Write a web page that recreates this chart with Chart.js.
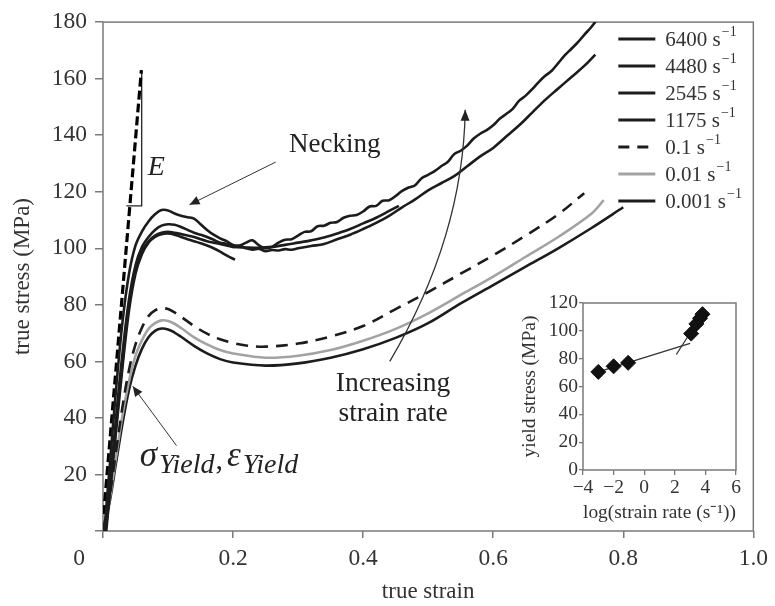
<!DOCTYPE html>
<html>
<head>
<meta charset="utf-8">
<script src="https://cdn.jsdelivr.net/npm/chart.js@4.4.0/dist/chart.umd.min.js"></script>
<style>
  html, body { margin: 0; padding: 0; background: #fff; }
  #wrap { position: relative; width: 775px; height: 606px; }
  #mainChart { position: absolute; left: 0; top: 0; }
  #insetChart { position: absolute; left: 505px; top: 290px; }
</style>
</head>
<body>
<div id="wrap">
  <canvas id="mainChart" width="775" height="606"></canvas>
  <canvas id="insetChart" width="250" height="240"></canvas>
</div>
<script>
/************ data (true strain, true stress MPa) ************/
const rate_labels = ['6400', '4480', '2545', '1175', '0.1', '0.01', '0.001'];

const curve_6400 = [[0.002,0],[0.01,22],[0.02,50],[0.03,74],[0.04,91],[0.05,101],[0.06,106],[0.07,109.5],[0.08,112],[0.09,113.5],
  [0.1,113.4],[0.11,112.3],[0.12,111.5],[0.13,111],[0.14,110.5],[0.15,108.5],[0.16,106.5],[0.17,104.8],[0.18,103.5],[0.19,102.5],[0.2,101.2],
  [0.21,101],[0.22,102],[0.23,102.8],[0.24,101],[0.25,100],[0.26,100.5],[0.27,102],[0.28,103],[0.29,103.2],[0.3,104.5],
  [0.31,105.8],[0.32,106],[0.33,107.8],[0.34,108],[0.35,109],[0.36,109.3],[0.37,110.8],[0.38,111.5],[0.39,111.8],[0.4,113],
  [0.41,114.8],[0.42,115],[0.43,116.8],[0.44,117],[0.45,118.5],[0.46,120.3],[0.47,121.5],[0.48,122.3],[0.49,124.8],[0.5,126],
  [0.51,127.3],[0.52,129],[0.53,130.5],[0.54,133.3],[0.55,134.5],[0.56,136.3],[0.57,138.8],[0.58,140.5],[0.59,141.8],[0.6,143.5],
  [0.61,145.8],[0.62,147.5],[0.63,149.3],[0.64,152.2],[0.65,154],[0.66,156.3],[0.67,158.8],[0.68,161],[0.69,162.8],[0.7,165.5],
  [0.71,168.2],[0.72,170.5],[0.73,172.8],[0.74,175.5],[0.75,178],[0.76,181]];

const curve_4480 = [[0.003,0],[0.01,15],[0.02,40],[0.03,63],[0.04,82],[0.05,94],[0.06,100.5],[0.07,104],[0.08,106.5],[0.09,108],
  [0.1,108.5],[0.11,108.3],[0.12,107.5],[0.13,106.5],[0.14,105.5],[0.15,104.8],[0.16,104],[0.17,103],[0.18,102],[0.19,101.5],[0.2,100.5],
  [0.21,100.8],[0.22,100],[0.23,99.5],[0.24,99.8],[0.25,99],[0.26,99.4],[0.27,99.2],[0.28,99.7],[0.29,99.5],[0.3,100],
  [0.32,100.8],[0.34,101.5],[0.36,103.2],[0.38,104.8],[0.4,106.8],[0.42,109],[0.44,111.5],[0.46,114.5],[0.48,117.3],[0.5,120.5],
  [0.52,123],[0.54,125.5],[0.56,129],[0.58,132.5],[0.6,135.5],[0.62,139.5],[0.64,143.5],[0.66,148],[0.68,152.5],[0.7,156.5],
  [0.72,160.5],[0.74,164.5],[0.757,168.5]];

const curve_2545 = [[0.004,0],[0.01,13],[0.02,37],[0.03,60],[0.04,80],[0.05,92.5],[0.06,99],[0.07,102.5],[0.08,104.5],[0.09,105.5],
  [0.1,105.8],[0.11,105.5],[0.12,105],[0.13,104.5],[0.14,104],[0.15,103.2],[0.16,102.5],[0.17,102],[0.18,101.5],[0.19,101],[0.2,100.5],
  [0.22,100.3],[0.24,100.2],[0.26,100.5],[0.28,101.2],[0.3,102],[0.32,102.8],[0.34,103.8],[0.36,105.2],[0.38,106.8],[0.4,108.8],
  [0.42,110.8],[0.44,113.2],[0.455,115]];

const curve_1175 = [[0.005,0],[0.01,12],[0.02,35],[0.03,58],[0.04,78],[0.05,91],[0.06,98],[0.07,102],[0.08,104],[0.09,105],
  [0.1,105.2],[0.11,104.8],[0.12,104],[0.13,103.2],[0.14,102.5],[0.15,101.8],[0.16,101],[0.17,100],[0.18,98.8],[0.19,97.5],[0.2,96.3],[0.203,96]];

const curve_01 = [[0,0],[0.01,12],[0.02,28],[0.03,44],[0.04,57],[0.05,66],[0.06,72],[0.07,76],[0.08,78],[0.09,78.8],
  [0.1,78.5],[0.11,77.3],[0.12,75.8],[0.14,72.5],[0.16,69.8],[0.18,67.8],[0.2,66.5],[0.22,65.6],[0.25,65.2],[0.3,66.3],
  [0.35,68.8],[0.4,72.5],[0.45,78.5],[0.5,84.5],[0.55,91],[0.6,97.5],[0.65,104.5],[0.7,112],[0.74,119.5]];

const curve_001 = [[0,0],[0.01,11],[0.02,26],[0.03,41],[0.04,53],[0.05,62],[0.06,67.5],[0.07,71.5],[0.08,73.5],[0.09,74.5],
  [0.1,74.3],[0.11,73.3],[0.12,71.8],[0.14,68.5],[0.16,66],[0.18,64],[0.2,62.8],[0.25,61.3],[0.3,62],
  [0.35,64],[0.4,67.3],[0.45,71.5],[0.5,77],[0.55,83.5],[0.6,90],[0.65,97],[0.7,104],[0.75,112],[0.77,117]];

const curve_0001 = [[0,0],[0.01,10],[0.02,24],[0.03,38],[0.04,50],[0.05,58.5],[0.06,64.5],[0.07,68.5],[0.08,70.8],[0.09,71.6],
  [0.1,71.3],[0.11,70.2],[0.12,68.7],[0.14,65.5],[0.16,62.8],[0.18,60.8],[0.2,59.6],[0.25,58.5],[0.3,59.3],
  [0.35,61.3],[0.4,64.3],[0.45,68.3],[0.5,73.5],[0.55,80.5],[0.6,87],[0.65,93.5],[0.7,100],[0.75,107],[0.8,114.5]];

// elastic modulus line and its slope triangle
const modulus_line = [[0.001,6],[0.059,163]];
const slope_mark = [[0.036,115],[0.0595,115],[0.0595,163]];

const x_ticks = [0, 0.2, 0.4, 0.6, 0.8, 1.0];
const y_ticks = [0, 20, 40, 60, 80, 100, 120, 140, 160, 180];

/************ inset data ************/
const log_rate = [-3, -2, -1.05, 3.07, 3.41, 3.65, 3.81];
const yield_stress = [70.5, 74.5, 77, 98, 105, 109, 112];
const fit_low = [[-3,70.5],[3.0,91]];
const fit_high = [[2.1,83],[3.85,113]];

/************ helpers ************/
const FONT = "'Liberation Serif', 'Times New Roman', serif";
const INK = '#1c1c1c';
const AXIS = '#7a7a7a';
const TEXT = '#333';

const toXY = arr => arr.map(p => ({x: p[0], y: p[1]}));

function makeSeries(label, arr, color, dash) {
  return {
    label: label,
    data: toXY(arr),
    borderColor: color,
    borderWidth: 2.6,
    borderDash: dash || [],
    pointRadius: 0,
    tension: 0.35,
    fill: false
  };
}

function arrowHead(ctx, fx, fy, tx, ty, len, half) {
  const a = Math.atan2(ty - fy, tx - fx);
  ctx.beginPath();
  ctx.moveTo(tx, ty);
  ctx.lineTo(tx - len * Math.cos(a) + half * Math.sin(a), ty - len * Math.sin(a) - half * Math.cos(a));
  ctx.lineTo(tx - len * Math.cos(a) - half * Math.sin(a), ty - len * Math.sin(a) + half * Math.cos(a));
  ctx.closePath();
  ctx.fill();
}

/************ main chart plugin: frame, legend, notes ************/
const mainDecor = {
  id: 'mainDecor',
  beforeDatasetsDraw(chart) {
    const {ctx, chartArea: a} = chart;
    ctx.save();
    ctx.strokeStyle = AXIS;
    ctx.lineWidth = 1.5;
    ctx.strokeRect(a.left, a.top, a.right - a.left, a.bottom - a.top);
    ctx.restore();
  },
  afterDatasetsDraw(chart) {
    const {ctx, chartArea: a, scales: {x, y}} = chart;
    const px = v => x.getPixelForValue(v);
    const py = v => y.getPixelForValue(v);
    ctx.save();

    // the shared origin label
    ctx.fillStyle = TEXT;
    ctx.font = '23.5px ' + FONT;
    ctx.textAlign = 'center';
    ctx.textBaseline = 'middle';
    ctx.fillText('0', px(0) - 24, a.bottom + 28);

    // legend
    chart.data.datasets.forEach((ds, i) => {
      if (ds.noLegend) return;
      const ry = a.top + 17 + i * 27;
      ctx.strokeStyle = ds.borderColor;
      ctx.lineWidth = 3;
      ctx.setLineDash(ds.borderDash.length ? [11, 8] : []);
      ctx.beginPath();
      ctx.moveTo(a.right - 135, ry);
      ctx.lineTo(a.right - 98, ry);
      ctx.stroke();
      ctx.setLineDash([]);
      ctx.fillStyle = TEXT;
      ctx.textAlign = 'left';
      ctx.textBaseline = 'middle';
      ctx.font = '21px ' + FONT;
      const t = ds.label + ' s';
      ctx.fillText(t, a.right - 88, ry + 1);
      const w = ctx.measureText(t).width;
      ctx.font = '14px ' + FONT;
      ctx.fillText('\u22121', a.right - 88 + w + 1, ry - 7);
    });

    // arrows
    ctx.strokeStyle = '#333';
    ctx.fillStyle = '#222';
    ctx.lineWidth = 1;
    const straight = (x1, y1, x2, y2) => {
      ctx.beginPath();
      ctx.moveTo(px(x1), py(y1));
      ctx.lineTo(px(x2), py(y2));
      ctx.stroke();
      arrowHead(ctx, px(x1), py(y1), px(x2), py(y2), 10, 4.5);
    };
    straight(0.2656, 130.5, 0.133, 115.4);   // necking
    straight(0.113, 30.2, 0.0458, 51.2);     // yield point

    // curved "increasing strain rate" arrow
    ctx.lineWidth = 1.3;
    ctx.beginPath();
    ctx.moveTo(px(0.441), py(60));
    ctx.quadraticCurveTo(px(0.554), py(104), px(0.557), py(149));
    ctx.stroke();
    arrowHead(ctx, px(0.554), py(104), px(0.557), py(149), 11, 4.5);

    // text notes
    ctx.fillStyle = '#222';
    ctx.textBaseline = 'middle';
    ctx.textAlign = 'left';
    ctx.font = '27px ' + FONT;
    ctx.fillText('Necking', px(0.286), py(136.5));
    ctx.textAlign = 'center';
    ctx.font = '27.5px ' + FONT;
    ctx.fillText('Increasing', px(0.446), py(51.9));
    ctx.fillText('strain rate', px(0.446), py(41.4));

    ctx.textAlign = 'left';
    ctx.font = 'italic 28px ' + FONT;
    ctx.fillText('E', px(0.069), py(128.4));

    // sigma / epsilon yield label
    ctx.textBaseline = 'alphabetic';
    let cx = px(0.0565);
    const base = py(23);
    const parts = [['\u03c3', 'italic 35px ', 0, 2], ['Yield', 'italic 28px ', 7, 1], [',', '30px ', 3, 4],
                   ['\u03b5', 'italic 35px ', 0, 2], ['Yield', 'italic 28px ', 7, 0]];
    parts.forEach(p => {
      ctx.font = p[1] + FONT;
      ctx.fillText(p[0], cx, base + p[2]);
      cx += ctx.measureText(p[0]).width + p[3];
    });

    ctx.restore();
  }
};

/************ main chart ************/
const mainData = {
  datasets: [
    makeSeries(rate_labels[0], curve_6400, INK),
    makeSeries(rate_labels[1], curve_4480, INK),
    makeSeries(rate_labels[2], curve_2545, INK),
    makeSeries(rate_labels[3], curve_1175, INK),
    makeSeries(rate_labels[4], curve_01, INK, [12, 8]),
    makeSeries(rate_labels[5], curve_001, '#a3a3a3'),
    makeSeries(rate_labels[6], curve_0001, INK),
    Object.assign(makeSeries('E', modulus_line, '#000', [9, 4]), {borderWidth: 3.2, tension: 0, noLegend: true}),
    Object.assign(makeSeries('slope', slope_mark, '#222'), {borderWidth: 1.3, tension: 0, noLegend: true})
  ]
};

const axisFont = {family: FONT, size: 23.5};

new Chart(document.getElementById('mainChart'), {
  type: 'line',
  data: mainData,
  options: {
    responsive: false,
    animation: false,
    layout: { padding: {top: 18, right: 17, left: 0, bottom: 0} },
    plugins: { legend: {display: false}, tooltip: {enabled: false} },
    scales: {
      x: {
        type: 'linear',
        min: x_ticks[0],
        max: x_ticks[x_ticks.length - 1],
        afterBuildTicks: s => { s.ticks = x_ticks.map(v => ({value: v})); },
        ticks: {
          color: TEXT, font: axisFont, padding: 7, maxRotation: 0, autoSkip: false,
          callback: v => v === 0 ? '' : v.toFixed(1)
        },
        grid: { drawOnChartArea: false, tickLength: 7, color: AXIS, lineWidth: 1.5 },
        border: { display: false },
        title: { display: true, text: 'true strain', color: TEXT, font: {family: FONT, size: 23}, padding: {top: 0, bottom: 0} },
        afterFit: s => { s.height = 75; }
      },
      y: {
        min: y_ticks[0],
        max: y_ticks[y_ticks.length - 1],
        afterBuildTicks: s => { s.ticks = y_ticks.map(v => ({value: v})); },
        ticks: {
          color: TEXT, font: axisFont, padding: 8, autoSkip: false,
          callback: v => v === 0 ? '' : v
        },
        grid: { drawOnChartArea: false, tickLength: 8, color: AXIS, lineWidth: 1.5 },
        border: { display: false },
        title: { display: true, text: 'true stress (MPa)', color: TEXT, font: {family: FONT, size: 23}, padding: {top: 9, bottom: 0} },
        afterFit: s => { s.width = 103; }
      }
    }
  },
  plugins: [mainDecor]
});

/************ inset chart ************/
const insetFrame = {
  id: 'insetFrame',
  beforeDatasetsDraw(chart) {
    const {ctx, chartArea: a} = chart;
    ctx.save();
    ctx.strokeStyle = AXIS;
    ctx.lineWidth = 1.5;
    ctx.strokeRect(a.left, a.top, a.right - a.left, a.bottom - a.top);
    ctx.restore();
  }
};

const insetFont = {family: FONT, size: 19.5};

new Chart(document.getElementById('insetChart'), {
  type: 'scatter',
  data: {
    datasets: [
      {
        data: log_rate.map((v, i) => ({x: v, y: yield_stress[i]})),
        pointStyle: 'rectRot',
        pointRadius: 7.5,
        backgroundColor: '#111',
        borderColor: '#111',
        borderWidth: 1
      },
      { data: toXY(fit_low), showLine: true, pointRadius: 0, borderColor: '#333', borderWidth: 1.3 },
      { data: toXY(fit_high), showLine: true, pointRadius: 0, borderColor: '#333', borderWidth: 1.3 }
    ]
  },
  options: {
    responsive: false,
    animation: false,
    layout: { padding: {top: 13, right: 19, left: 0, bottom: 0} },
    plugins: { legend: {display: false}, tooltip: {enabled: false} },
    scales: {
      x: {
        type: 'linear', min: -4, max: 6,
        ticks: { stepSize: 2, color: TEXT, font: insetFont, padding: 1, maxRotation: 0,
          callback: v => v < 0 ? '\u2212' + Math.abs(v) : '' + v },
        grid: { drawOnChartArea: false, tickLength: 5, color: AXIS, lineWidth: 1.3 },
        border: { display: false },
        title: { display: true, text: 'log(strain rate (s\u207b\u00b9))', color: TEXT, font: insetFont, padding: {top: 0, bottom: 5} },
        afterFit: s => { s.height = 60; }
      },
      y: {
        min: 0, max: 120,
        ticks: { stepSize: 20, color: TEXT, font: insetFont, padding: 1 },
        grid: { drawOnChartArea: false, tickLength: 4, color: AXIS, lineWidth: 1.3 },
        border: { display: false },
        title: { display: true, text: 'yield stress (MPa)', color: TEXT, font: insetFont, padding: {top: 13, bottom: 0} },
        afterFit: s => { s.width = 78; }
      }
    }
  },
  plugins: [insetFrame]
});
</script>
</body>
</html>
